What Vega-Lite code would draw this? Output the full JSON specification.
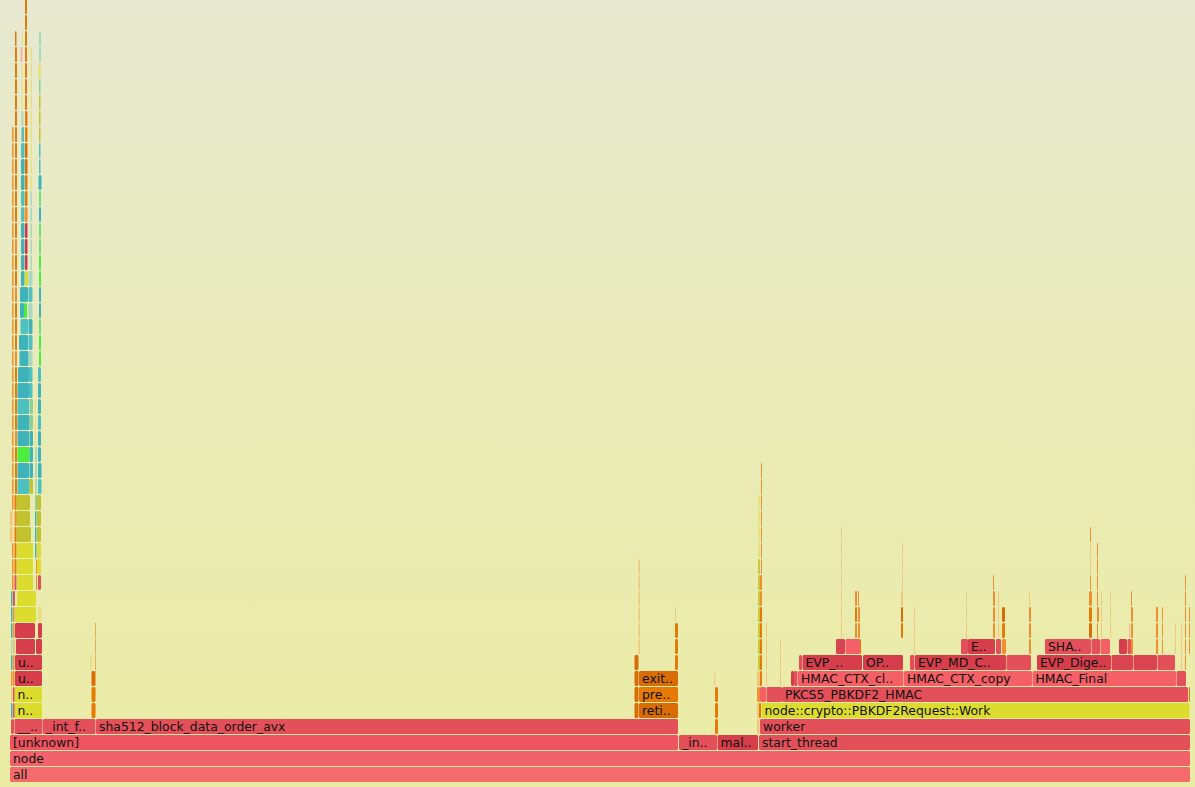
{"$schema":"https://vega.github.io/schema/vega-lite/v6.json","width":1195,"height":787,"padding":0,"autosize":{"type":"none"},"background":"#e9ebb8","config":{"view":{"stroke":null}},
"datasets":{"frames":[
{"start":10,"end":1190,"level":0,"shade":"r0","name":"all"},
{"start":10,"end":1190,"level":1,"shade":"r1","name":"node"},
{"start":10,"end":678,"level":2,"shade":"r2","name":"[unknown]"},
{"start":679,"end":717,"level":2,"shade":"r3","name":"_in.."},
{"start":717.5,"end":758,"level":2,"shade":"r6","name":"mal.."},
{"start":759,"end":1190,"level":2,"shade":"r3","name":"start_thread"},
{"start":11,"end":14,"level":3,"shade":"r3"},
{"start":14.5,"end":42.5,"level":3,"shade":"r3","name":"__.."},
{"start":43,"end":95.5,"level":3,"shade":"r3","name":"_int_f.."},
{"start":96,"end":678,"level":3,"shade":"r3","name":"sha512_block_data_order_avx"},
{"start":715,"end":718,"level":3,"shade":"o1"},
{"start":757,"end":759.5,"level":3,"shade":"po"},
{"start":760,"end":1190,"level":3,"shade":"r3","name":"worker"},
{"start":14.5,"end":42,"level":4,"shade":"y1","name":"n.."},
{"start":91.5,"end":95.5,"level":4,"shade":"o1"},
{"start":634.5,"end":638.5,"level":4,"shade":"o3"},
{"start":639,"end":678,"level":4,"shade":"o3","name":"reti.."},
{"start":715,"end":718,"level":4,"shade":"o1"},
{"start":757,"end":759,"level":4,"shade":"po"},
{"start":759,"end":761,"level":4,"shade":"o1"},
{"start":761.5,"end":1189.5,"level":4,"shade":"y1","name":"node::crypto::PBKDF2Request::Work"},
{"start":14.5,"end":42,"level":5,"shade":"y1","name":"n.."},
{"start":91.5,"end":95.5,"level":5,"shade":"o1"},
{"start":634.5,"end":638.5,"level":5,"shade":"o3"},
{"start":639,"end":678,"level":5,"shade":"o1","name":"pre.."},
{"start":715,"end":718,"level":5,"shade":"o1"},
{"start":757,"end":760,"level":5,"shade":"o2"},
{"start":760,"end":766,"level":5,"shade":"r5"},
{"start":766.5,"end":782,"level":5,"shade":"r3"},
{"start":782,"end":1188,"level":5,"shade":"r3","name":" PKCS5_PBKDF2_HMAC"},
{"start":1189,"end":1190,"level":5,"shade":"o1"},
{"start":15,"end":42,"level":6,"shade":"r6","name":"u.."},
{"start":91.5,"end":95,"level":6,"shade":"o3"},
{"start":95.3,"end":96,"level":6,"shade":"o2"},
{"start":634.5,"end":638.5,"level":6,"shade":"o3"},
{"start":639,"end":678,"level":6,"shade":"o3","name":"exit.."},
{"start":714.3,"end":715.3,"level":6,"shade":"po"},
{"start":757,"end":760,"level":6,"shade":"po"},
{"start":760,"end":762,"level":6,"shade":"o1"},
{"start":766,"end":767,"level":6,"shade":"po"},
{"start":780,"end":781,"level":6,"shade":"po"},
{"start":791,"end":794,"level":6,"shade":"r6"},
{"start":794,"end":797.5,"level":6,"shade":"r3"},
{"start":798,"end":903.5,"level":6,"shade":"r5","name":"HMAC_CTX_cl.."},
{"start":904,"end":1032,"level":6,"shade":"r5","name":"HMAC_CTX_copy"},
{"start":1032.5,"end":1176,"level":6,"shade":"r5","name":"HMAC_Final"},
{"start":1176.5,"end":1186,"level":6,"shade":"r3"},
{"start":15,"end":42,"level":7,"shade":"r6","name":"u.."},
{"start":90,"end":92,"level":7,"shade":"py"},
{"start":95.3,"end":96,"level":7,"shade":"o2"},
{"start":634.5,"end":638.5,"level":7,"shade":"o3"},
{"start":675,"end":678,"level":7,"shade":"o1"},
{"start":758,"end":760,"level":7,"shade":"ol"},
{"start":760,"end":762,"level":7,"shade":"o1"},
{"start":766,"end":767,"level":7,"shade":"po"},
{"start":780,"end":781,"level":7,"shade":"po"},
{"start":799,"end":802,"level":7,"shade":"r3"},
{"start":802.5,"end":862,"level":7,"shade":"r6","name":"EVP_.."},
{"start":863,"end":903,"level":7,"shade":"r6","name":"OP.."},
{"start":910,"end":914.5,"level":7,"shade":"r3"},
{"start":915,"end":1006,"level":7,"shade":"r6","name":" EVP_MD_C.."},
{"start":1006.5,"end":1031,"level":7,"shade":"r3"},
{"start":1037,"end":1111,"level":7,"shade":"r6","name":"EVP_Dige.."},
{"start":1111.5,"end":1133,"level":7,"shade":"r4"},
{"start":1133.5,"end":1157,"level":7,"shade":"r4"},
{"start":1157.5,"end":1175,"level":7,"shade":"r3"},
{"start":1181,"end":1182,"level":7,"shade":"po"},
{"start":1185,"end":1186,"level":7,"shade":"o2"},
{"start":16,"end":35,"level":8,"shade":"r6"},
{"start":36,"end":42,"level":8,"shade":"r6"},
{"start":95.3,"end":96,"level":8,"shade":"o2"},
{"start":638.5,"end":640,"level":8,"shade":"po"},
{"start":675,"end":678,"level":8,"shade":"o1"},
{"start":758,"end":760,"level":8,"shade":"ol"},
{"start":760,"end":762,"level":8,"shade":"o1"},
{"start":766,"end":767,"level":8,"shade":"po"},
{"start":780,"end":781,"level":8,"shade":"po"},
{"start":836,"end":845,"level":8,"shade":"r4"},
{"start":845.5,"end":860,"level":8,"shade":"r5"},
{"start":860,"end":861,"level":8,"shade":"o1"},
{"start":914,"end":915,"level":8,"shade":"po"},
{"start":961,"end":968,"level":8,"shade":"r3"},
{"start":968,"end":995,"level":8,"shade":"r6","name":"E.."},
{"start":996,"end":1001,"level":8,"shade":"r3"},
{"start":1002,"end":1006,"level":8,"shade":"o2"},
{"start":1029,"end":1031,"level":8,"shade":"o2"},
{"start":1045,"end":1091,"level":8,"shade":"r3","name":"SHA.."},
{"start":1091.5,"end":1100,"level":8,"shade":"r3"},
{"start":1100.5,"end":1110,"level":8,"shade":"r5"},
{"start":1119,"end":1127,"level":8,"shade":"r6"},
{"start":1127.5,"end":1131,"level":8,"shade":"r3"},
{"start":1131,"end":1133,"level":8,"shade":"o2"},
{"start":1156,"end":1158,"level":8,"shade":"o2"},
{"start":1162,"end":1163,"level":8,"shade":"o2"},
{"start":1175,"end":1176,"level":8,"shade":"po"},
{"start":1181,"end":1182,"level":8,"shade":"po"},
{"start":1185,"end":1186,"level":8,"shade":"o2"},
{"start":1189,"end":1190,"level":8,"shade":"o2"},
{"start":15,"end":35,"level":9,"shade":"r6"},
{"start":38,"end":42,"level":9,"shade":"r6"},
{"start":95.3,"end":96,"level":9,"shade":"o2"},
{"start":638.5,"end":640,"level":9,"shade":"po"},
{"start":675,"end":678,"level":9,"shade":"o1"},
{"start":758,"end":760,"level":9,"shade":"ol"},
{"start":760,"end":762,"level":9,"shade":"o1"},
{"start":766,"end":767,"level":9,"shade":"po"},
{"start":841,"end":842,"level":9,"shade":"po"},
{"start":855,"end":857,"level":9,"shade":"o2"},
{"start":858,"end":860,"level":9,"shade":"o2"},
{"start":901,"end":903,"level":9,"shade":"o1"},
{"start":914,"end":915,"level":9,"shade":"po"},
{"start":966,"end":967,"level":9,"shade":"po"},
{"start":993,"end":995,"level":9,"shade":"o2"},
{"start":998,"end":999,"level":9,"shade":"po"},
{"start":1002,"end":1005,"level":9,"shade":"o1"},
{"start":1029,"end":1031,"level":9,"shade":"o2"},
{"start":1089,"end":1092,"level":9,"shade":"o3"},
{"start":1097,"end":1098,"level":9,"shade":"o2"},
{"start":1101,"end":1102,"level":9,"shade":"po"},
{"start":1110,"end":1111,"level":9,"shade":"po"},
{"start":1129,"end":1130,"level":9,"shade":"pp"},
{"start":1131,"end":1133,"level":9,"shade":"o2"},
{"start":1156,"end":1158,"level":9,"shade":"o2"},
{"start":1162,"end":1163,"level":9,"shade":"o2"},
{"start":1175,"end":1176,"level":9,"shade":"po"},
{"start":1181,"end":1182,"level":9,"shade":"po"},
{"start":1185,"end":1186,"level":9,"shade":"o2"},
{"start":1189,"end":1190,"level":9,"shade":"o2"},
{"start":15,"end":36,"level":10,"shade":"y1"},
{"start":38,"end":42,"level":10,"shade":"py"},
{"start":638.5,"end":640,"level":10,"shade":"po"},
{"start":675,"end":676,"level":10,"shade":"po"},
{"start":758,"end":760,"level":10,"shade":"ol"},
{"start":760,"end":762,"level":10,"shade":"o1"},
{"start":841,"end":842,"level":10,"shade":"po"},
{"start":855,"end":857,"level":10,"shade":"o1"},
{"start":858,"end":860,"level":10,"shade":"o2"},
{"start":901,"end":903,"level":10,"shade":"o3"},
{"start":914,"end":915,"level":10,"shade":"po"},
{"start":966,"end":967,"level":10,"shade":"po"},
{"start":993,"end":995,"level":10,"shade":"o2"},
{"start":998,"end":999,"level":10,"shade":"po"},
{"start":1002,"end":1005,"level":10,"shade":"o3"},
{"start":1029,"end":1031,"level":10,"shade":"o2"},
{"start":1089,"end":1092,"level":10,"shade":"o1"},
{"start":1097,"end":1099,"level":10,"shade":"o2"},
{"start":1101,"end":1102,"level":10,"shade":"po"},
{"start":1110,"end":1111,"level":10,"shade":"po"},
{"start":1131,"end":1133,"level":10,"shade":"o2"},
{"start":1156,"end":1158,"level":10,"shade":"o2"},
{"start":1162,"end":1163,"level":10,"shade":"o2"},
{"start":1185,"end":1186,"level":10,"shade":"o2"},
{"start":1189,"end":1190,"level":10,"shade":"o2"},
{"start":17,"end":36,"level":11,"shade":"y1"},
{"start":638.5,"end":640,"level":11,"shade":"po"},
{"start":758,"end":760,"level":11,"shade":"ol"},
{"start":760,"end":762,"level":11,"shade":"o2"},
{"start":841,"end":842,"level":11,"shade":"po"},
{"start":855,"end":857,"level":11,"shade":"o2"},
{"start":858,"end":859,"level":11,"shade":"o2"},
{"start":901,"end":902,"level":11,"shade":"po"},
{"start":902,"end":903,"level":11,"shade":"po"},
{"start":966,"end":967,"level":11,"shade":"po"},
{"start":993,"end":995,"level":11,"shade":"o2"},
{"start":998,"end":999,"level":11,"shade":"po"},
{"start":1029,"end":1030,"level":11,"shade":"po"},
{"start":1089,"end":1092,"level":11,"shade":"o2"},
{"start":1097,"end":1098,"level":11,"shade":"o2"},
{"start":1101,"end":1102,"level":11,"shade":"po"},
{"start":1110,"end":1111,"level":11,"shade":"po"},
{"start":1131,"end":1132,"level":11,"shade":"o2"},
{"start":1185,"end":1186,"level":11,"shade":"o2"},
{"start":17,"end":33,"level":12,"shade":"y1"},
{"start":38,"end":41,"level":12,"shade":"r3"},
{"start":638.5,"end":640,"level":12,"shade":"po"},
{"start":758,"end":760,"level":12,"shade":"ol"},
{"start":760,"end":762,"level":12,"shade":"o2"},
{"start":841,"end":842,"level":12,"shade":"po"},
{"start":902,"end":903,"level":12,"shade":"po"},
{"start":993,"end":994,"level":12,"shade":"o2"},
{"start":1090,"end":1091,"level":12,"shade":"o2"},
{"start":1097,"end":1098,"level":12,"shade":"o2"},
{"start":1185,"end":1186,"level":12,"shade":"o2"},
{"start":17,"end":33,"level":13,"shade":"y1"},
{"start":37,"end":41,"level":13,"shade":"y1"},
{"start":638.5,"end":640,"level":13,"shade":"po"},
{"start":758,"end":760,"level":13,"shade":"ol"},
{"start":761,"end":762,"level":13,"shade":"o2"},
{"start":841,"end":842,"level":13,"shade":"po"},
{"start":902,"end":903,"level":13,"shade":"po"},
{"start":1090,"end":1091,"level":13,"shade":"po"},
{"start":1097,"end":1098,"level":13,"shade":"o2"},
{"start":17,"end":33,"level":14,"shade":"y1"},
{"start":37,"end":41,"level":14,"shade":"y1"},
{"start":758,"end":760,"level":14,"shade":"py"},
{"start":761,"end":762,"level":14,"shade":"o2"},
{"start":841,"end":842,"level":14,"shade":"po"},
{"start":902,"end":903,"level":14,"shade":"po"},
{"start":1090,"end":1091,"level":14,"shade":"po"},
{"start":1097,"end":1098,"level":14,"shade":"o2"},
{"start":841,"end":842,"level":15,"shade":"po"},
{"start":758,"end":760,"level":15,"shade":"py"},
{"start":761,"end":762,"level":15,"shade":"o2"},
{"start":1090,"end":1091,"level":15,"shade":"o2"},
{"start":761,"end":762,"level":16,"shade":"o2"},
{"start":758,"end":760,"level":16,"shade":"py"},
{"start":761,"end":762,"level":17,"shade":"o2"},
{"start":758,"end":760,"level":17,"shade":"py"},
{"start":761,"end":762,"level":18,"shade":"o2"},
{"start":761,"end":762,"level":19,"shade":"o2"},
{"start":16.5,"end":31,"level":15,"shade":"y2"},
{"start":37,"end":41,"level":15,"shade":"y2"},
{"start":16,"end":30,"level":16,"shade":"y2"},
{"start":37,"end":41,"level":16,"shade":"y2"},
{"start":16.5,"end":30,"level":17,"shade":"y2"},
{"start":37,"end":41,"level":17,"shade":"y2"},
{"start":17.5,"end":29.5,"level":18,"shade":"t2"},
{"start":17.5,"end":29,"level":19,"shade":"t1"},
{"start":17.5,"end":29.5,"level":20,"shade":"g1"},
{"start":17.5,"end":29,"level":21,"shade":"t1"},
{"start":17.5,"end":29.5,"level":22,"shade":"t1"},
{"start":17.5,"end":29,"level":23,"shade":"t2"},
{"start":17.5,"end":29,"level":24,"shade":"t1"},
{"start":18,"end":29,"level":25,"shade":"t1"},
{"start":19.5,"end":28.5,"level":26,"shade":"t1"},
{"start":19,"end":28,"level":27,"shade":"t1"},
{"start":20.5,"end":28,"level":28,"shade":"t2"},
{"start":20,"end":24,"level":29,"shade":"t1"},
{"start":24,"end":27,"level":29,"shade":"g1"},
{"start":20,"end":28,"level":30,"shade":"t1"},
{"start":21,"end":24.5,"level":31,"shade":"t1"},
{"start":25,"end":28,"level":31,"shade":"y1"},
{"start":21,"end":24.5,"level":32,"shade":"t1"},
{"start":25,"end":27.5,"level":32,"shade":"r7"},
{"start":21,"end":24.5,"level":33,"shade":"t1"},
{"start":25,"end":27.5,"level":33,"shade":"r7"},
{"start":21,"end":24.5,"level":34,"shade":"t1"},
{"start":25,"end":27.5,"level":34,"shade":"r7"},
{"start":21,"end":24,"level":35,"shade":"t2"},
{"start":24.5,"end":27.5,"level":35,"shade":"o2"},
{"start":21,"end":24.5,"level":36,"shade":"t2"},
{"start":25,"end":27.5,"level":36,"shade":"o1"},
{"start":21,"end":24.5,"level":37,"shade":"t1"},
{"start":25,"end":27.5,"level":37,"shade":"o1"},
{"start":21,"end":24.5,"level":38,"shade":"t1"},
{"start":25,"end":27.5,"level":38,"shade":"o3"},
{"start":21,"end":24.5,"level":39,"shade":"t2"},
{"start":25,"end":27.5,"level":39,"shade":"o3"},
{"start":21.5,"end":24,"level":40,"shade":"t2"},
{"start":25,"end":27.5,"level":40,"shade":"o1"},
{"start":21.5,"end":23.5,"level":41,"shade":"pt"},
{"start":25,"end":27.5,"level":41,"shade":"o1"},
{"start":21.5,"end":23,"level":42,"shade":"py"},
{"start":25,"end":27,"level":42,"shade":"o1"},
{"start":21.5,"end":23,"level":43,"shade":"py"},
{"start":25,"end":27,"level":43,"shade":"o1"},
{"start":21.5,"end":23,"level":44,"shade":"py"},
{"start":25,"end":27,"level":44,"shade":"o1"},
{"start":20.5,"end":22.5,"level":45,"shade":"pp"},
{"start":25,"end":27,"level":45,"shade":"o1"},
{"start":22,"end":23,"level":46,"shade":"py"},
{"start":25,"end":27,"level":46,"shade":"o1"},
{"start":25,"end":27,"level":47,"shade":"o1"},
{"start":25,"end":27,"level":48,"shade":"o1"},
{"start":12,"end":13.5,"level":12,"shade":"o2"},{"start":12,"end":13.5,"level":13,"shade":"o2"},{"start":12,"end":13.5,"level":14,"shade":"o2"},
{"start":10,"end":12.5,"level":15,"shade":"po"},{"start":10,"end":12.5,"level":16,"shade":"po"},
{"start":11,"end":12.5,"level":4,"shade":"t1"},{"start":11,"end":12.5,"level":5,"shade":"po"},{"start":11,"end":12.5,"level":6,"shade":"o2"},{"start":11,"end":12.5,"level":7,"shade":"t1"},{"start":11,"end":12.5,"level":8,"shade":"pt"},{"start":11,"end":12.5,"level":9,"shade":"t1"},{"start":11,"end":12.5,"level":10,"shade":"t1"},{"start":11,"end":12.5,"level":11,"shade":"t1"},
{"start":13,"end":14.5,"level":4,"shade":"r3"},{"start":13,"end":14.5,"level":5,"shade":"r3"},{"start":13,"end":14.5,"level":6,"shade":"o2"},{"start":13,"end":14.5,"level":7,"shade":"o2"},{"start":13,"end":15,"level":8,"shade":"po"},
{"start":13,"end":14.5,"level":9,"shade":"o2"},{"start":13,"end":14.5,"level":10,"shade":"o2"},{"start":13,"end":15,"level":11,"shade":"r3"},
{"start":14.5,"end":16.5,"level":12,"shade":"r3"},{"start":14.5,"end":16.5,"level":13,"shade":"o1"},{"start":14.5,"end":16.5,"level":14,"shade":"o1"},{"start":14.5,"end":16.5,"level":15,"shade":"o1"},{"start":14.5,"end":16.5,"level":16,"shade":"o2"},
{"start":12,"end":13.5,"level":17,"shade":"o2"},{"start":14.5,"end":16.5,"level":17,"shade":"o1"},
{"start":12,"end":13.5,"level":18,"shade":"o2"},{"start":15,"end":17,"level":18,"shade":"o1"},
{"start":12,"end":13.5,"level":19,"shade":"o2"},{"start":15,"end":17,"level":19,"shade":"o1"},
{"start":12,"end":13.5,"level":20,"shade":"o2"},{"start":15,"end":17,"level":20,"shade":"o1"},
{"start":12,"end":13.5,"level":21,"shade":"o2"},{"start":15,"end":17,"level":21,"shade":"o2"},
{"start":12,"end":13.5,"level":22,"shade":"o2"},{"start":15,"end":17,"level":22,"shade":"o1"},
{"start":12,"end":13.5,"level":23,"shade":"o2"},{"start":15,"end":17,"level":23,"shade":"o1"},
{"start":12,"end":13.5,"level":24,"shade":"o2"},{"start":15,"end":17,"level":24,"shade":"o1"},
{"start":12,"end":13.5,"level":25,"shade":"o2"},{"start":15,"end":17,"level":25,"shade":"o1"},
{"start":12,"end":13.5,"level":26,"shade":"o2"},{"start":15,"end":17,"level":26,"shade":"o2"},
{"start":12,"end":13.5,"level":27,"shade":"o2"},{"start":15,"end":17,"level":27,"shade":"o1"},
{"start":12,"end":13.5,"level":28,"shade":"o2"},{"start":15,"end":17,"level":28,"shade":"o1"},
{"start":12,"end":13.5,"level":29,"shade":"o2"},{"start":15,"end":17,"level":29,"shade":"o1"},
{"start":12,"end":13.5,"level":30,"shade":"o2"},{"start":15,"end":17,"level":30,"shade":"o2"},
{"start":12,"end":13.5,"level":31,"shade":"o2"},{"start":15,"end":17,"level":31,"shade":"o1"},
{"start":12,"end":13.5,"level":32,"shade":"o2"},{"start":15,"end":17,"level":32,"shade":"o1"},
{"start":12,"end":13.5,"level":33,"shade":"o2"},{"start":15,"end":17,"level":33,"shade":"o2"},
{"start":12,"end":13.5,"level":34,"shade":"o2"},{"start":15,"end":17,"level":34,"shade":"o1"},
{"start":12,"end":13.5,"level":35,"shade":"o2"},{"start":15,"end":17,"level":35,"shade":"o1"},
{"start":12,"end":13.5,"level":36,"shade":"o2"},{"start":15,"end":17,"level":36,"shade":"o1"},
{"start":12,"end":13.5,"level":37,"shade":"o2"},{"start":15,"end":17,"level":37,"shade":"o1"},
{"start":12,"end":13.5,"level":38,"shade":"o2"},{"start":15,"end":17,"level":38,"shade":"o1"},
{"start":12,"end":13.5,"level":39,"shade":"o2"},{"start":15,"end":17,"level":39,"shade":"o1"},
{"start":12,"end":13.5,"level":40,"shade":"o2"},{"start":15,"end":17,"level":40,"shade":"o1"},
{"start":15,"end":17,"level":41,"shade":"o1"},{"start":15,"end":17,"level":42,"shade":"o1"},{"start":15,"end":17,"level":43,"shade":"o1"},{"start":15,"end":17,"level":44,"shade":"o1"},{"start":15,"end":17,"level":45,"shade":"o1"},{"start":15,"end":16.5,"level":46,"shade":"o1"},
{"start":29.5,"end":33,"level":18,"shade":"y2"},{"start":29.5,"end":33,"level":19,"shade":"t1"},{"start":29.5,"end":33,"level":20,"shade":"t1"},{"start":29.5,"end":33,"level":21,"shade":"t1"},{"start":29.5,"end":33,"level":22,"shade":"pg"},{"start":29.5,"end":33,"level":23,"shade":"pg"},{"start":29,"end":32.5,"level":24,"shade":"t2"},{"start":29,"end":32.5,"level":25,"shade":"t2"},{"start":29,"end":32.5,"level":26,"shade":"pt"},{"start":28.5,"end":32.5,"level":27,"shade":"t2"},{"start":28.5,"end":32.5,"level":28,"shade":"t1"},{"start":28.5,"end":32.5,"level":29,"shade":"pt"},{"start":28.5,"end":32.5,"level":30,"shade":"t2"},{"start":28.5,"end":32.5,"level":31,"shade":"pt"},{"start":30.5,"end":32,"level":32,"shade":"pt"},{"start":30.5,"end":32,"level":33,"shade":"pt"},{"start":30.5,"end":32,"level":34,"shade":"pt"},{"start":30.5,"end":32,"level":35,"shade":"pt"},{"start":30.5,"end":32,"level":36,"shade":"pt"},{"start":30.5,"end":32,"level":37,"shade":"py"},{"start":30.5,"end":32,"level":38,"shade":"py"},{"start":30.5,"end":32,"level":39,"shade":"py"},{"start":30.5,"end":32,"level":40,"shade":"py"},{"start":30.5,"end":32,"level":41,"shade":"py"},{"start":30.5,"end":32,"level":42,"shade":"py"},{"start":30.5,"end":32,"level":43,"shade":"py"},{"start":30.5,"end":32,"level":44,"shade":"py"},{"start":30.5,"end":32,"level":45,"shade":"py"},
{"start":35,"end":36,"level":23,"shade":"py"},{"start":35,"end":36,"level":22,"shade":"py"},{"start":35,"end":36,"level":21,"shade":"py"},{"start":35,"end":37,"level":20,"shade":"pt"},{"start":35,"end":37,"level":19,"shade":"pt"},{"start":35,"end":37,"level":18,"shade":"pt"},{"start":35,"end":37,"level":17,"shade":"pg"},{"start":35,"end":36.5,"level":16,"shade":"t1"},{"start":35,"end":36.5,"level":15,"shade":"t1"},{"start":35,"end":36.5,"level":14,"shade":"t1"},{"start":36,"end":37,"level":13,"shade":"o2"},{"start":36,"end":37,"level":12,"shade":"o2"},
{"start":38,"end":41.5,"level":18,"shade":"t2"},{"start":38,"end":41.5,"level":19,"shade":"t1"},{"start":38,"end":41,"level":20,"shade":"t1"},{"start":38,"end":41,"level":21,"shade":"t1"},{"start":38,"end":41,"level":22,"shade":"t2"},{"start":38,"end":41,"level":23,"shade":"t1"},{"start":38,"end":41,"level":24,"shade":"t1"},{"start":38,"end":41,"level":25,"shade":"t2"},
{"start":39,"end":41,"level":26,"shade":"g1"},{"start":39,"end":41,"level":27,"shade":"g1"},{"start":39,"end":41,"level":28,"shade":"g2"},{"start":39,"end":41,"level":29,"shade":"t1"},{"start":39,"end":41,"level":30,"shade":"t1"},{"start":39,"end":41,"level":31,"shade":"g1"},{"start":39,"end":41,"level":32,"shade":"g1"},{"start":39,"end":41,"level":33,"shade":"g2"},{"start":39,"end":41,"level":34,"shade":"g2"},{"start":39,"end":41,"level":35,"shade":"t1"},{"start":39,"end":41,"level":36,"shade":"g2"},{"start":38.5,"end":41.5,"level":37,"shade":"t1"},{"start":39,"end":40.5,"level":38,"shade":"t2"},{"start":39,"end":40.5,"level":39,"shade":"t2"},{"start":39,"end":40.5,"level":40,"shade":"y2"},{"start":39,"end":40.5,"level":41,"shade":"y2"},{"start":39,"end":40.5,"level":42,"shade":"y2"},{"start":39,"end":40.5,"level":43,"shade":"pg"},{"start":38,"end":41,"level":44,"shade":"py"},{"start":39,"end":41,"level":45,"shade":"pt"},{"start":39,"end":41,"level":46,"shade":"pt"}
]},
"layer":[
{"data":{"values":[{"start":0,"end":1195}]},"mark":{"type":"rect","fill":{"gradient":"linear","x1":0,"y1":0,"x2":0,"y2":1,"stops":[{"offset":0,"color":"#e7e9d1"},{"offset":0.5,"color":"#e9ebb8"},{"offset":1,"color":"#ebeca4"}]}},"encoding":{"x":{"field":"start","type":"quantitative","scale":{"domain":[0,1195],"nice":false,"zero":false},"axis":null},"x2":{"field":"end"}}},
{"data":{"name":"frames"},"mark":{"type":"rect","cornerRadius":1.5},"encoding":{
"x":{"field":"start","type":"quantitative","axis":null},"x2":{"field":"end"},
"y":{"field":"level","type":"ordinal","axis":null,"sort":null,"scale":{"domain":[48,47,46,45,44,43,42,41,40,39,38,37,36,35,34,33,32,31,30,29,28,27,26,25,24,23,22,21,20,19,18,17,16,15,14,13,12,11,10,9,8,7,6,5,4,3,2,1,0],"range":[-1,782],"paddingInner":0.0625,"paddingOuter":0}},
"color":{"field":"shade","type":"nominal","legend":null,"scale":{"domain":["r0","r1","r2","r3","r4","r5","r6","r7","y1","y2","o1","o2","o3","ol","t1","t2","g1","g2","po","py","pt","pp","pg"],"range":["#f56b6b","#f1626a","#ee5560","#e4505a","#da4450","#f55f66","#d63e4c","#d8354a","#dcdc2e","#c2c22e","#e57a05","#ef8f30","#d96d05","#c8c840","#3fb3ba","#4dc0c0","#4aee3e","#6ee070","#f0c67c","#e6e284","#a8d8c0","#e8b8a8","#8ccf98"]}}}},
{"data":{"name":"frames"},"transform":[{"filter":"datum.name"}],"mark":{"type":"text","align":"left","baseline":"middle","dx":3,"dy":0.5,"font":"DejaVu Sans","fontSize":12.4,"fill":"#111111"},"encoding":{
"x":{"field":"start","type":"quantitative","axis":null},
"y":{"field":"level","type":"ordinal","axis":null},
"text":{"field":"name"}}}
]}
